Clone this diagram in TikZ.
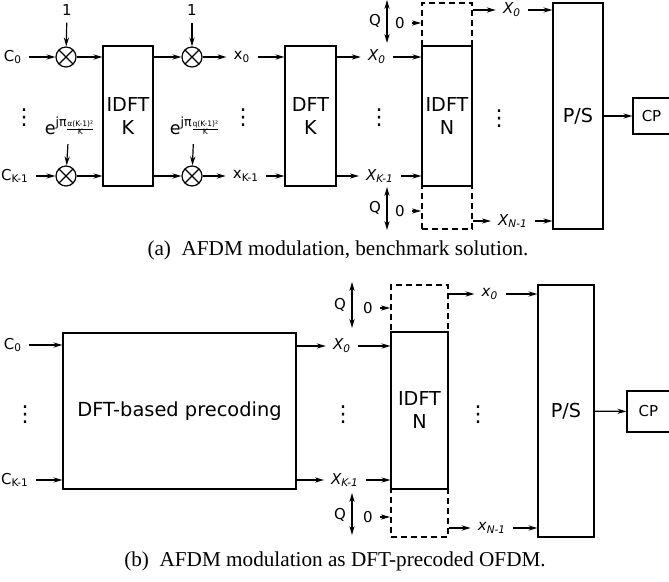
\documentclass[tikz,border=0pt]{standalone}
\usepackage{fontspec}
\setmainfont{DejaVu Sans}
\newfontfamily\capfont{Liberation Serif}
\usetikzlibrary{arrows.meta,positioning,shapes}

% e^{j pi a(K-1)^2/K} label
\newcommand{\chirp}[1]{{\fontsize{8.8}{10}\selectfont e}\raisebox{4pt}{\fontsize{6.3}{7}\selectfont jπ\kern0.4pt{\fontsize{3.8}{4}\selectfont\renewcommand{\arraystretch}{0.75}\setlength{\tabcolsep}{0pt}\begin{tabular}[t]{c}#1(K-1)²\\\hline K\end{tabular}}}}

\begin{document}
\begin{tikzpicture}[x=0.5pt, y=-0.5pt, line width=0.6pt,
  >={Stealth[length=4.5pt,width=2.6pt]},
  every node/.style={font=\fontsize{7.5}{9}\selectfont},
  blk/.style={draw, align=center, inner sep=0pt, font=\fontsize{9.6}{11.5}\selectfont},
  pad/.style={draw, line width=1pt, dash pattern=on 3pt off 2pt, inner sep=0pt},
  mult/.style={draw, circle, minimum size=10pt, inner sep=0pt,
    path picture={\draw (path picture bounding box.north west) -- (path picture bounding box.south east)
      (path picture bounding box.south west) -- (path picture bounding box.north east);}},
  vdts/.style={inner sep=0pt, font=\fontsize{11}{12}\selectfont},
  captxt/.style={font=\capfont\fontsize{10.6}{12}\selectfont}]
  \useasboundingbox (0,0) rectangle (669,582);

  %% (a) benchmark
  \node (c0a) at (13,57) {C\textsubscript{0}};
  \node (cK1a) at (15,176) {C\textsubscript{K-1}};
  \node (dotsA1) [vdts] at (24,118) {⋮};
  \node (mul1) [mult] at (66,57) {};
  \node (mul2) [mult] at (66,176) {};
  \node (one1) at (67,10) {1};
  \node (expA) at (69,127) {\chirp{α}};
  \node (idftK) [blk, minimum width=25pt, minimum height=70pt] at (128,116) {IDFT\\K};
  \node (mul3) [mult] at (192,57) {};
  \node (mul4) [mult] at (192,176) {};
  \node (one2) at (192,10) {1};
  \node (expB) at (194,127) {\chirp{q}};
  \node (x0a) at (242,57) {x\textsubscript{0}};
  \node (xK1a) at (246,176) {x\textsubscript{K-1}};
  \node (dotsA2) [vdts] at (243,118) {⋮};
  \node (dftK) [blk, minimum width=25.5pt, minimum height=70pt] at (310.5,116) {DFT\\K};
  \node (X0a) at (377,57) {\textit{X\textsubscript{0}}};
  \node (XK1a) at (380,176) {\textit{X\textsubscript{K-1}}};
  \node (dotsA3) [vdts] at (379,118) {⋮};
  \node (idftNa) [blk, minimum width=25pt, minimum height=70pt] at (447,116) {IDFT\\N};
  \node (padTopA) [pad, minimum width=25pt, minimum height=21.5pt] at (447,24.5) {};
  \node (padBotA) [pad, minimum width=25pt, minimum height=21.5pt] at (447,207.5) {};
  \node (qTopA) at (375,21) {Q};
  \node (qBotA) at (375,208) {Q};
  \coordinate (qa1) at (387,0);
  \coordinate (qa2) at (387,43);
  \coordinate (qa3) at (387,187);
  \coordinate (qa4) at (387,230);
  \node (zTopA) at (400,23) {0};
  \node (zBotA) at (400,211) {0};
  \node (X0oa) at (512,10) {\textit{X\textsubscript{0}}};
  \node (XN1oa) at (513,221) {\textit{X\textsubscript{N-1}}};
  \node (dotsA4) [vdts] at (499,119) {⋮};
  \node (psA) [blk, minimum width=25pt, minimum height=113pt] at (578,116) {P/S};
  \node (cpA) [draw, minimum width=18.5pt, minimum height=18pt, inner sep=0pt] at (651.5,116) {CP};

  \draw[->] (c0a) -- (mul1);
  \draw[->] (cK1a) -- (mul2);
  \draw[->] (one1) -- (mul1);
  \draw[->] (expA) -- (mul2);
  \draw[->] (mul1) -- (mul1 -| idftK.west);
  \draw[->] (mul2) -- (mul2 -| idftK.west);
  \draw[->] (mul3 -| idftK.east) -- (mul3);
  \draw[->] (mul4 -| idftK.east) -- (mul4);
  \draw[->] (one2) -- (mul3);
  \draw[->] (expB) -- (mul4);
  \draw[->] (mul3) -- (x0a);
  \draw[->] (mul4) -- (xK1a);
  \draw[->] (x0a) -- (x0a -| dftK.west);
  \draw[->] (xK1a) -- (xK1a -| dftK.west);
  \draw[->] (X0a -| dftK.east) -- (X0a);
  \draw[->] (XK1a -| dftK.east) -- (XK1a);
  \draw[->] (X0a) -- (X0a -| idftNa.west);
  \draw[->] (XK1a) -- (XK1a -| idftNa.west);
  \draw[<->] (qa1) -- (qa2);
  \draw[<->] (qa3) -- (qa4);
  \draw[->] (zTopA) -- (zTopA -| padTopA.west);
  \draw[->] (zBotA) -- (zBotA -| padBotA.west);
  \draw[->] (X0oa -| padTopA.east) -- (X0oa);
  \draw[->] (XN1oa -| padBotA.east) -- (XN1oa);
  \draw[->] (X0oa) -- (X0oa -| psA.west);
  \draw[->] (XN1oa) -- (XN1oa -| psA.west);
  \draw[->] (psA) -- (cpA);

  \node (capA) [captxt] at (338,250) {(a)\hspace{0.5em}AFDM modulation, benchmark solution.};

  %% (b) DFT-precoded OFDM
  \node (c0b) at (13,345) {C\textsubscript{0}};
  \node (cK1b) at (15,480) {C\textsubscript{K-1}};
  \node (dotsB1) [vdts] at (25,415) {⋮};
  \node (pre) [blk, minimum width=116.5pt, minimum height=78pt, font=\fontsize{9.7}{12}\selectfont] at (179.5,411) {DFT-based precoding};
  \node (X0b) at (342,346) {\textit{X\textsubscript{0}}};
  \node (XK1b) at (345,480) {\textit{X\textsubscript{K-1}}};
  \node (dotsB2) [vdts] at (343,415) {⋮};
  \node (idftNb) [blk, minimum width=28.5pt, minimum height=78.5pt] at (419.5,410.5) {IDFT\\N};
  \node (padTopB) [pad, minimum width=28.5pt, minimum height=23.5pt] at (419.5,308.5) {};
  \node (padBotB) [pad, minimum width=28.5pt, minimum height=24pt] at (419.5,513) {};
  \node (qTopB) at (340,305) {Q};
  \node (qBotB) at (340,515) {Q};
  \coordinate (qb1) at (352,282);
  \coordinate (qb2) at (352,328);
  \coordinate (qb3) at (352,493);
  \coordinate (qb4) at (352,535);
  \node (zTopB) at (368,308) {0};
  \node (zBotB) at (368,517) {0};
  \node (x0ob) at (490,294) {\textit{x\textsubscript{0}}};
  \node (xN1ob) at (492,528) {\textit{x\textsubscript{N-1}}};
  \node (dotsB3) [vdts] at (478,415) {⋮};
  \node (psB) [blk, minimum width=28pt, minimum height=126pt] at (566,411) {P/S};
  \node (cpB) [draw, minimum width=21.5pt, minimum height=20.5pt, inner sep=0pt] at (648.5,411.5) {CP};

  \draw[->] (c0b) -- (c0b -| pre.west);
  \draw[->] (cK1b) -- (cK1b -| pre.west);
  \draw[->] (X0b -| pre.east) -- (X0b);
  \draw[->] (XK1b -| pre.east) -- (XK1b);
  \draw[->] (X0b) -- (X0b -| idftNb.west);
  \draw[->] (XK1b) -- (XK1b -| idftNb.west);
  \draw[<->] (qb1) -- (qb2);
  \draw[<->] (qb3) -- (qb4);
  \draw[->] (zTopB) -- (zTopB -| padTopB.west);
  \draw[->] (zBotB) -- (zBotB -| padBotB.west);
  \draw[->] (x0ob -| padTopB.east) -- (x0ob);
  \draw[->] (xN1ob -| padBotB.east) -- (xN1ob);
  \draw[->] (x0ob) -- (x0ob -| psB.west);
  \draw[->] (xN1ob) -- (xN1ob -| psB.west);
  \draw[->] (psB) -- (cpB);

  \node (capB) [captxt] at (335,561) {(b)\hspace{0.5em}AFDM modulation as DFT-precoded OFDM.};
\end{tikzpicture}
\end{document}
